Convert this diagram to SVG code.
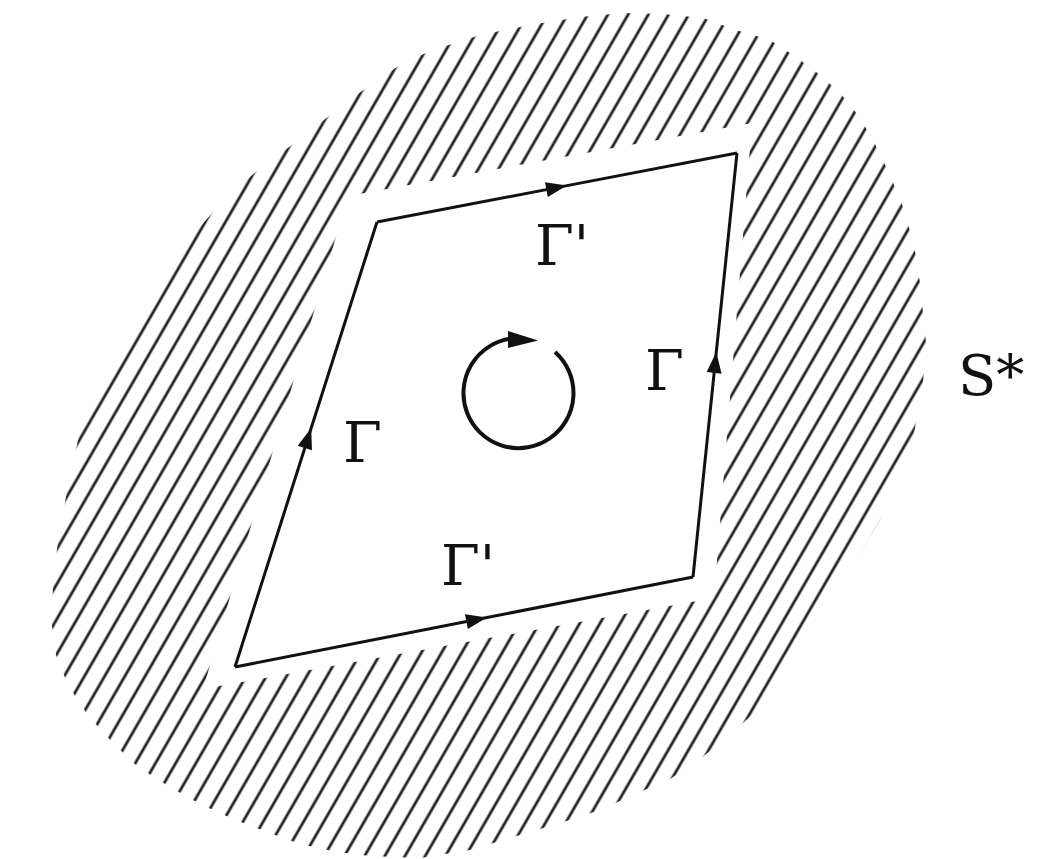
<svg xmlns="http://www.w3.org/2000/svg" width="1053" height="859" viewBox="0 0 1053 859">
  <style>
    .edge { fill: none; stroke: #111; stroke-width: 3; stroke-linejoin: miter; }
    .lbl { font-family: "DejaVu Serif", serif; font-size: 56px; fill: #111; }
    .circ { fill: none; stroke: #111; stroke-width: 4; }
  </style>
  <defs>
    <pattern id="hatch" patternUnits="userSpaceOnUse" width="17.5" height="10" patternTransform="rotate(30)">
      <line x1="8.75" y1="-1" x2="8.75" y2="11" stroke="#222" stroke-width="2.8"/>
    </pattern>
    <marker id="arr" markerUnits="userSpaceOnUse" viewBox="-23 -9 24 18" refX="0" refY="0" markerWidth="24" markerHeight="18" orient="auto">
      <path d="M0,0 L-21,-7.5 L-21,7.5 Z" fill="#111"/>
    </marker>
  </defs>
  <rect width="1053" height="859" fill="#fff"/>
  <g id="region-S-star">
    <polygon fill="url(#hatch)" points="623,13 663,14 703,18 736,30 770,40 796,57 820,75 840,93 858,115 873,140 890,175 903,207 914,245 920,283 926,343 923,383 913,439 898,480 880,520 850,570 820,620 795,665 773,696 733,732 700,759 670,779 640,792 600,810 560,823 520,835 470,850 420,858 370,856 337,852 300,844 267,832 233,819 200,804 170,787 138,767 112,742 87,714 68,685 56,655 52,626 53,582 58,541 67,491 83,417 105,370 130,330 155,288 182,247 230,193 267,163 303,137 340,107 373,83 403,63 433,50 480,35 530,25 580,17"/>
    <polygon fill="#fff" points="348,196 752,123 714,598 203,689"/>
  </g>
  <g id="connectors">
    <path class="edge" marker-mid="url(#arr)" d="M377,222 L567,185.6 L737,153"/>
    <path class="edge" marker-mid="url(#arr)" d="M693,577 L716.3,352 L737,153"/>
    <path class="edge" marker-mid="url(#arr)" d="M235,667 L487,617.5 L693,577"/>
    <path class="edge" marker-mid="url(#arr)" d="M235,667 L311.2,428 L377,222"/>
  </g>
  <g id="circulation">
    <path class="circ" d="M555,352 A55,55 0 1 1 512,338.5"/>
    <polygon fill="#111" points="508,331 538,340.5 508,348"/>
  </g>
  <g id="label-top"><text class="lbl" x="535" y="265">Γ'</text></g>
  <g id="label-left"><text class="lbl" x="343" y="462">Γ</text></g>
  <g id="label-right"><text class="lbl" x="645" y="390">Γ</text></g>
  <g id="label-bottom"><text class="lbl" x="441" y="585">Γ'</text></g>
  <g id="label-S"><text class="lbl" x="958" y="395" font-size="54">S*</text></g>
</svg>
